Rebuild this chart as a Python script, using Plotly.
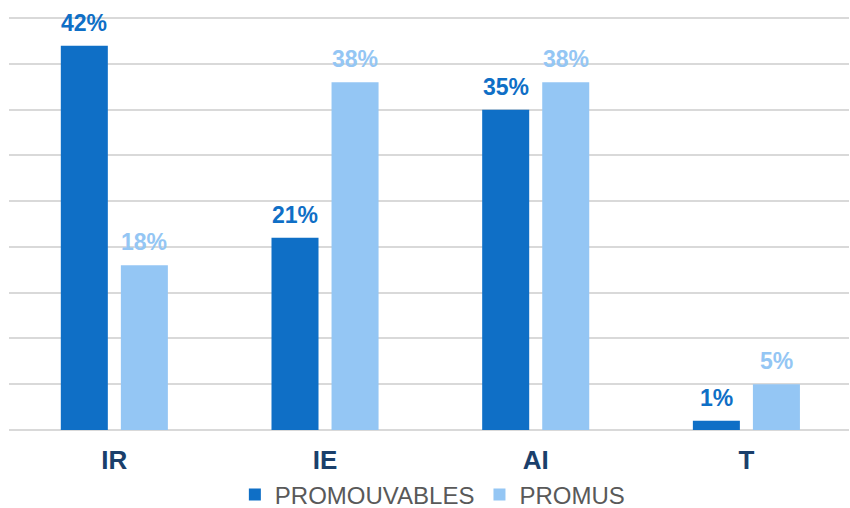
import plotly.graph_objects as go

categories = ["IR", "IE", "AI", "T"]
promouvables = [42, 21, 35, 1]
promus = [18, 38, 38, 5]

dark = "#0F6FC6"
light = "#94C6F4"

fig = go.Figure()
fig.add_trace(go.Bar(
    x=categories, y=promouvables, name="PROMOUVABLES",
    marker=dict(color=dark, line=dict(width=0)),
))
fig.add_trace(go.Bar(
    x=categories, y=promus, name="PROMUS",
    marker=dict(color=light, line=dict(width=0)),
))

# value labels above bars (offset = half of a bar slot within the group)
for series, color, shift in ((promouvables, dark, -30), (promus, light, 30)):
    for cat, v in zip(categories, series):
        fig.add_annotation(
            x=cat, y=v, text=f"{v}%", showarrow=False,
            xshift=shift, yshift=8, yanchor="bottom",
            font=dict(color=color, size=23, family="Liberation Sans", weight="bold"),
        )

fig.update_layout(
    width=850, height=508,
    margin=dict(l=9, r=1, t=15, b=78, autoexpand=False),
    paper_bgcolor="white", plot_bgcolor="white",
    barmode="group", bargap=0.43, bargroupgap=0.217,
    font=dict(family="Liberation Sans"),
    showlegend=True,
    legend=dict(orientation="h", x=0.504, xanchor="center", y=-0.102, yanchor="top",
                font=dict(size=24, color="#595959"), itemwidth=30,
                traceorder="normal"),
    xaxis=dict(range=[-0.5, 3.487], showline=False, ticks="", automargin=False,
               ticklabelstandoff=12,
               tickfont=dict(size=26, color="#1A3F6B", weight="bold")),
    yaxis=dict(range=[0, 45.35], dtick=5, showticklabels=False, showgrid=True, automargin=False,
               gridcolor="#D9D9D9", gridwidth=2, zeroline=True, zerolinecolor="#D9D9D9",
               zerolinewidth=2),
)

fig.write_html("out.html", config={"displayModeBar": False},
               post_script="document.body.style.margin='0';")
